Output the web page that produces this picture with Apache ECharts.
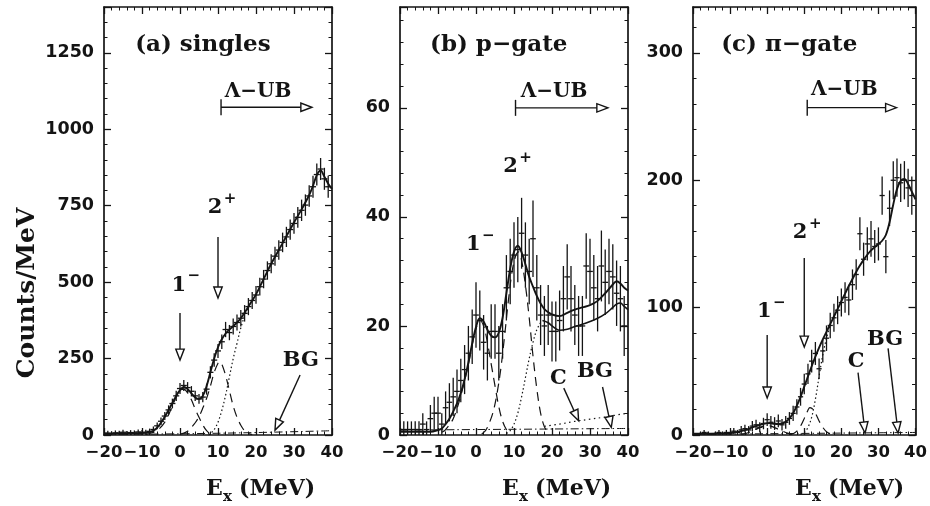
<!DOCTYPE html>
<html><head><meta charset="utf-8">
<script src="https://cdn.jsdelivr.net/npm/echarts@6/dist/echarts.min.js"></script>
<style>html,body{margin:0;padding:0;background:#fff}#c{width:930px;height:506px}</style>
</head><body><div id="c"></div>
<script>
// ---------- data ----------
const binX = [-20,-19,-18,-17,-16,-15,-14,-13,-12,-11,-10,-9,-8,-7,-6,-5,-4,-3,-2,-1,
  0,1,2,3,4,5,6,7,8,9,10,11,12,13,14,15,16,17,18,19,20,21,22,23,24,25,26,27,28,29,
  30,31,32,33,34,35,36,37,38,39];

// (a) singles
const aVal = [5,6,4,7,6,9,5,8,7,10, 8,9,12,18,30,45,62,82,103,128,
  152,162,155,143,128,118,124,150,205,245, 275,305,345,335,355,368,382,398,420,440,
  458,485,510,538,560,585,605,630,648,672, 692,712,735,752,782,812,852,870,838,812];
const aErr = [8,8,8,8,8,8,8,8,8,8, 8,8,9,10,11,12,13,15,16,17,
  18,18,18,17,17,16,17,18,20,22, 23,24,25,25,26,26,27,27,28,28,
  29,29,30,30,31,31,32,32,33,33, 34,34,35,35,35,36,36,36,36,36];
const aFitTotal = [[-20,4],[-14,5],[-10,6],[-8,9],[-7,14],[-6,24],[-5,40],[-4,60],[-3,82],[-2,105],[-1,128],[0,147],[1,157],[2,150],[3,136],[4,123],[5,118],[6,128],[7,160],[8,205],[9,250],[10,287],[11,313],[12,332],[13,345],[14,356],[15,368],[16,382],[17,400],[18,420],[19,440],[20,460],[22,510],[24,560],[26,605],[28,650],[30,695],[32,738],[34,785],[35,815],[36,850],[37,865],[38,845],[39,822],[40,805]];
const aFit1m = [[-9,2],[-8,5],[-6,15],[-4,42],[-2,95],[-1,125],[0,146],[1,150],[2,138],[3,115],[4,85],[5,58],[6,33],[7,14],[8,4],[9,0]];
const aFit2p = [[0,3],[1,6],[2,12],[3,25],[4,40],[5,60],[6,88],[7,120],[8,160],[9,205],[10,235],[10.5,240],[11,232],[12,195],[13,145],[14,95],[15,58],[16,32],[17,14],[18,5],[19,1]];
const aFitC = [[7.5,0],[8,4],[9,18],[10,42],[11,80],[12,130],[13,190],[14,250],[15,300],[16,350],[17,390],[18,418]];
const aFitBG = [[-20,2],[0,4],[20,8],[40,14]];

// (b) p-gate
const bVal = [1,1,1,1,1,1,2,1,3,4, 4,2,5,6,7,8,10,12,15,18,
  22,21,17,15,19,19,15,19,27,30, 33,34,37,33,30,36,27,22,20,22,
  19,19,21,25,29,25,22,20,20,31, 30,27,25,31,28,30,29,26,25,20];
const bErr = [1.5,1.5,1.5,1.5,1.5,1.5,2,1.5,2.5,3, 3,2,3,3.5,3.5,4,4,4.5,5,5,
  6,5.5,5,5,5,5,5,5,6,6, 6,6,6.5,6,6,7,6,5.5,5.5,5.5,
  5.5,5.5,5.5,6,6,6,5.5,5.5,5.5,6, 6,6,6,6.5,6,6,6,6,6,5.5];
const bFitTotal = [[-20,0.6],[-12,0.6],[-10,0.9],[-9,1.2],[-8,2],[-7,3],[-6,4.3],[-5,5.8],[-4,7.7],[-3,10.2],[-2,13.3],[-1,16.8],[0,19.8],[1,21.4],[2,20.8],[3,19.3],[4,18.2],[5,17.9],[6,18.8],[7,21.5],[8,26],[9,30.5],[10,33.6],[11,34.7],[12,33.5],[13,31.3],[14,29],[15,27.2],[16,25.5],[17,24.1],[18,23.1],[19,22.5],[20,22.1],[22,21.8],[24,22.4],[26,23],[28,23.4],[30,23.8],[32,24.6],[34,26],[36,27.6],[37,28.2],[38,27.8],[39,27],[40,26.5]];
const bFitLow = [[17.5,21],[19,20.6],[20,20],[21,19.5],[22,19.2],[24,19.4],[26,19.9],[28,20.3],[30,20.8],[32,21.4],[34,22.2],[36,23.4],[37,24],[38,24.2],[39,23.6],[40,23]];
const bFit1m = [[-9,0.5],[-8,1],[-6,3],[-4,7.2],[-2,13],[-1,16.5],[0,19.5],[1,21],[2,20],[3,17],[4,13],[5,9],[6,5.2],[7,2.5],[8,1],[9,0.3]];
const bFit2p = [[1.5,0.2],[2.5,0.8],[3.5,2.2],[4.5,4.2],[5.5,7.5],[6.5,12],[7.5,18],[8.5,24.5],[9.5,30],[10.5,33],[11.2,33.6],[12,32],[13,27.5],[14,21.5],[15,14.5],[16,8.5],[17,4],[18,1.5],[19,0.4]];
const bFitC = [[8,0.3],[9,0.8],[10,2],[11,4],[12,7],[13,10.5],[14,14],[15,17],[16,19.3],[17,20.6],[17.5,21]];
const bFitCLow = [[18,1.6],[22,2],[26,2.5],[30,2.9],[34,3.3],[38,3.8],[40,4]];
const bFitBG = [[-20,0.9],[40,1.2]];

// (c) pi-gate
const cVal = [1,0,1,2,1,0,1,2,1,2, 1,3,2,4,5,4,7,8,6,9,
  12,10,9,11,8,10,13,17,22,30, 40,48,58,64,52,66,76,86,92,98,
  104,108,106,118,126,158,138,150,154,148, 150,188,140,178,200,202,198,200,194,188];
const cErr = [1.5,1,1.5,2,1.5,1,1.5,2,1.5,2, 1.5,2.5,2,3,3,3,4,4,4,4.5,
  5,5,5,5,4.5,5,5,6,6,7, 8,8,9,9,8,9,10,10,11,11,
  11,12,12,12,12,13,13,13,14,13, 13,15,13,14,15,15,15,15,15,15];
const cFitTotal = [[-20,1],[-12,1.2],[-9,2],[-7,3],[-5,4.8],[-3,7],[-1,8.8],[0,9.3],[1,9.2],[2,8.8],[3,8.6],[4,9],[5,10.3],[6,13],[7,17],[8,23],[9,30],[10,38],[11,46],[12,54],[13,61.5],[14,68.5],[15,75],[16,81],[17,87],[18,93],[19,99],[20,105],[21,111],[22,117],[23,122.5],[24,128],[25,133],[26,137.5],[27,141.5],[28,145],[29,147.5],[30,150],[31,152.5],[32,157],[33,167],[34,181],[35,193],[36,199.5],[37,201],[38,197],[39,191],[40,185]];
const cFit1m = [[-7,0.5],[-5,2],[-3,4.5],[-1,7],[0,7.5],[1,7],[3,4.5],[5,2],[7,0.5]];
const cFit2p = [[6,0.3],[7,1],[8,3],[9,7],[10,13],[11,19.5],[11.5,21.5],[12,21],[13,17],[14,11],[15,6],[16,2.5],[17,0.8]];
const cFitC = [[9,0.5],[10,2],[11,6],[12,14],[13,28],[14,46],[15,63],[16,76],[17,86]];
const cFitBG = [[-20,0.5],[40,2]];

// axis ticks
const xTicks = {min:-20, max:40, interval:10};
const yMaxes = [1400, 78.5, 336];
const yIntervals = [250, 20, 100];

// annotations (data coordinates)
const aNotes = [
  {t:'(a) singles', x:-11.8, y:1276, align:'left', size:23},
  {t:'Λ−UB', x:11.8, y:1122, align:'left', size:20},
  {t:'1', sup:'−', x:-0.3, y:490},
  {t:'2', sup:'+', x:9.2, y:743},
  {t:'BG', x:31.8, y:242}];
const bNotes = [
  {t:'(b) p−gate', x:-12.1, y:71.6, align:'left', size:23},
  {t:'Λ−UB', x:11.8, y:63, align:'left', size:20},
  {t:'1', sup:'−', x:-0.7, y:34.9},
  {t:'2', sup:'+', x:9.1, y:49.2},
  {t:'C', x:21.7, y:10.3},
  {t:'BG', x:31.3, y:11.6}];
const cNotes = [
  {t:'(c) π−gate', x:-12.4, y:306, align:'left', size:23},
  {t:'Λ−UB', x:11.8, y:271, align:'left', size:20},
  {t:'1', sup:'−', x:-0.8, y:96.6},
  {t:'2', sup:'+', x:8.9, y:158.7},
  {t:'C', x:24, y:58},
  {t:'BG', x:31.8, y:75}];
const aArrows = [
  {x1:10.8,y1:1072,x2:34.7,y2:1072,bar:true},
  {x1:0,y1:399,x2:0,y2:245},
  {x1:10,y1:648,x2:10,y2:448},
  {x1:31.6,y1:196,x2:25,y2:16}];
const bArrows = [
  {x1:10.4,y1:60,x2:34.7,y2:60,bar:true},
  {x1:23.1,y1:8.6,x2:27,y2:2.6},
  {x1:33.3,y1:8.8,x2:35.6,y2:1.4}];
const cArrows = [
  {x1:10.8,y1:257,x2:34.9,y2:257,bar:true},
  {x1:0,y1:78.6,x2:0,y2:29},
  {x1:10,y1:139,x2:10,y2:69},
  {x1:24.5,y1:49,x2:26.4,y2:1.6},
  {x1:32.6,y1:68,x2:35.3,y2:1.6}];

// ---------- layout / styles ----------
const INK = '#141414';
const SERIF = '"DejaVu Serif", "Liberation Serif", serif';
const SANS = '"DejaVu Sans", "Liberation Sans", sans-serif';
const gridLefts = [104, 400, 693];
const gridWidths = [228, 228, 228];
const GRID_TOP = 7, GRID_H = 428;

const panels = [
  {vals:aVal, errs:aErr, hw:0.8, total:aFitTotal, g1:aFit1m, g2:aFit2p, cont:aFitC, bg:aFitBG, extraSolid:null, extraDot:null, notes:aNotes, arrows:aArrows},
  {vals:bVal, errs:bErr, hw:0.75, total:bFitTotal, g1:bFit1m, g2:bFit2p, cont:bFitC, bg:bFitBG, extraSolid:bFitLow, extraDot:bFitCLow, notes:bNotes, arrows:bArrows},
  {vals:cVal, errs:cErr, hw:0.7, total:cFitTotal, g1:cFit1m, g2:cFit2p, cont:cFitC, bg:cFitBG, extraSolid:null, extraDot:null, notes:cNotes, arrows:cArrows}
];

const fmtNum = v => (v < 0 ? '\u2212' + (-v) : String(v));

const grids = [], xAxes = [], yAxes = [], series = [];
panels.forEach((p, i) => {
  grids.push({left: gridLefts[i], width: gridWidths[i], top: GRID_TOP, height: GRID_H, containLabel: false});
  const axisLine = {show: true, onZero: false, lineStyle: {color: INK, width: 1.7}};
  const tick = {show: true, inside: true, length: 7, lineStyle: {color: INK, width: 1.3}};
  const minor = {show: true, splitNumber: 5, length: 3.5, lineStyle: {color: INK, width: 1}};
  xAxes.push({gridIndex: i, type: 'value', position: 'bottom', min: xTicks.min, max: xTicks.max, interval: xTicks.interval,
    axisLine, axisTick: tick, minorTick: minor, splitLine: {show: false},
    axisLabel: {show: true, color: INK, fontFamily: SANS, fontWeight: 'bold', fontSize: 16.5, margin: 9,
      showMinLabel: true, showMaxLabel: true, hideOverlap: false, formatter: fmtNum}});
  xAxes.push({gridIndex: i, type: 'value', position: 'top', min: xTicks.min, max: xTicks.max, interval: xTicks.interval,
    axisLine, axisTick: tick, minorTick: minor, splitLine: {show: false}, axisLabel: {show: false}});
  yAxes.push({gridIndex: i, type: 'value', position: 'left', min: 0, max: yMaxes[i], interval: yIntervals[i],
    axisLine, axisTick: tick, minorTick: minor, splitLine: {show: false},
    axisLabel: {show: true, color: INK, fontFamily: SANS, fontWeight: 'bold', fontSize: 17.5, margin: 10, showMinLabel: true, showMaxLabel: false, formatter: fmtNum}});
  yAxes.push({gridIndex: i, type: 'value', position: 'right', min: 0, max: yMaxes[i], interval: yIntervals[i],
    axisLine, axisTick: tick, minorTick: minor, splitLine: {show: false}, axisLabel: {show: false}});

  const xi = i * 2, yi = i * 2;
  const line = (data, type, width, z) => ({
    type: 'line', xAxisIndex: xi, yAxisIndex: yi, data, showSymbol: false, symbol: 'none',
    smooth: 0.35, clip: true, silent: true, z: z || 3,
    lineStyle: {color: INK, width, type}
  });
  // error-bar crosses
  const hw = p.hw;
  series.push({
    type: 'custom', xAxisIndex: xi, yAxisIndex: yi, clip: true, silent: true, z: 2,
    data: binX.map((x, k) => [x, p.vals[k], p.errs[k]]),
    renderItem: (params, api) => {
      const x = api.value(0), y = api.value(1), e = api.value(2);
      const l = api.coord([x - hw, y]), r = api.coord([x + hw, y]);
      const t = api.coord([x, y + e]), b = api.coord([x, y - e]);
      const st = {stroke: INK, lineWidth: 1.3};
      return {type: 'group', children: [
        {type: 'line', shape: {x1: l[0], y1: l[1], x2: r[0], y2: r[1]}, style: st},
        {type: 'line', shape: {x1: t[0], y1: t[1], x2: b[0], y2: b[1]}, style: st}
      ]};
    }
  });
  series.push(line(p.total, 'solid', 1.9, 4));
  if (p.extraSolid) series.push(line(p.extraSolid, 'solid', 1.6, 4));
  series.push(line(p.g1, [9, 6], 1.2));
  series.push(line(p.g2, [9, 6], 1.2));
  series.push(line(p.cont, [1.5, 2.5], 1.2));
  if (p.extraDot) series.push(line(p.extraDot, [1.5, 3.5], 1.2));
  series.push(line(p.bg, [8, 3, 1.5, 3], 1));

  // arrows
  const arrows = p.arrows;
  series.push({
    type: 'custom', xAxisIndex: xi, yAxisIndex: yi, clip: false, silent: true, z: 6,
    data: arrows.map(a => [a.x1, a.y1, a.x2, a.y2]),
    renderItem: (params, api) => {
      const a = arrows[params.dataIndex];
      const p1 = api.coord([a.x1, a.y1]), p2 = api.coord([a.x2, a.y2]);
      const dx = p2[0] - p1[0], dy = p2[1] - p1[1];
      const len = Math.sqrt(dx * dx + dy * dy) || 1;
      const ux = dx / len, uy = dy / len, nx = -uy, ny = ux;
      const L = 11, W = 4.2;
      const bx = p2[0] - ux * L, by = p2[1] - uy * L;
      const st = {stroke: INK, lineWidth: 1.4};
      const ch = [
        {type: 'line', shape: {x1: p1[0], y1: p1[1], x2: bx, y2: by}, style: st},
        {type: 'polygon', shape: {points: [[p2[0], p2[1]], [bx + nx * W, by + ny * W], [bx - nx * W, by - ny * W]]},
          style: {fill: '#fff', stroke: INK, lineWidth: 1.4}}
      ];
      if (a.bar) ch.push({type: 'line', shape: {x1: p1[0], y1: p1[1] - 8, x2: p1[0], y2: p1[1] + 8}, style: st});
      return {type: 'group', children: ch};
    }
  });
  // text notes
  const notes = p.notes;
  series.push({
    type: 'custom', xAxisIndex: xi, yAxisIndex: yi, clip: false, silent: true, z: 7,
    data: notes.map(n => [n.x, n.y]),
    renderItem: (params, api) => {
      const n = notes[params.dataIndex];
      const q = api.coord([n.x, n.y]);
      const ch = [{type: 'text', x: q[0], y: q[1], style: {
        text: n.t, fill: INK, font: 'bold ' + (n.size || 21) + 'px ' + SERIF,
        textAlign: n.align || 'center', textVerticalAlign: 'middle'}}];
      if (n.sup) ch.push({type: 'text', x: q[0] + 15, y: q[1] - 9, style: {
        text: n.sup, fill: INK, font: 'bold 15px ' + SERIF, textAlign: 'center', textVerticalAlign: 'middle'}});
      return {type: 'group', children: ch};
    }
  });
});

// axis titles (graphic text)
const graphic = [{
  type: 'text', x: 27, y: 293, rotation: Math.PI / 2,
  style: {text: 'Counts/MeV', fill: INK, font: 'bold 25px ' + SERIF, textAlign: 'center', textVerticalAlign: 'middle'}
}];
gridLefts.forEach((gl, i) => {
  const x0 = gl + gridWidths[i] / 2 - 12;
  graphic.push({type: 'group', x: x0, y: 489, children: [
    {type: 'text', x: 0, y: 0, style: {text: 'E', fill: INK, font: 'bold 22px ' + SERIF, textAlign: 'left', textVerticalAlign: 'middle'}},
    {type: 'text', x: 17, y: 8, style: {text: 'x', fill: INK, font: 'bold 15px ' + SERIF, textAlign: 'left', textVerticalAlign: 'middle'}},
    {type: 'text', x: 33, y: 0, style: {text: '(MeV)', fill: INK, font: 'bold 22px ' + SERIF, textAlign: 'left', textVerticalAlign: 'middle'}}
  ]});
});

const chart = echarts.init(document.getElementById('c'), null, {renderer: 'canvas'});
chart.setOption({
  backgroundColor: '#fff',
  animation: false,
  grid: grids, xAxis: xAxes, yAxis: yAxes, series, graphic
});
</script>
</body></html>
